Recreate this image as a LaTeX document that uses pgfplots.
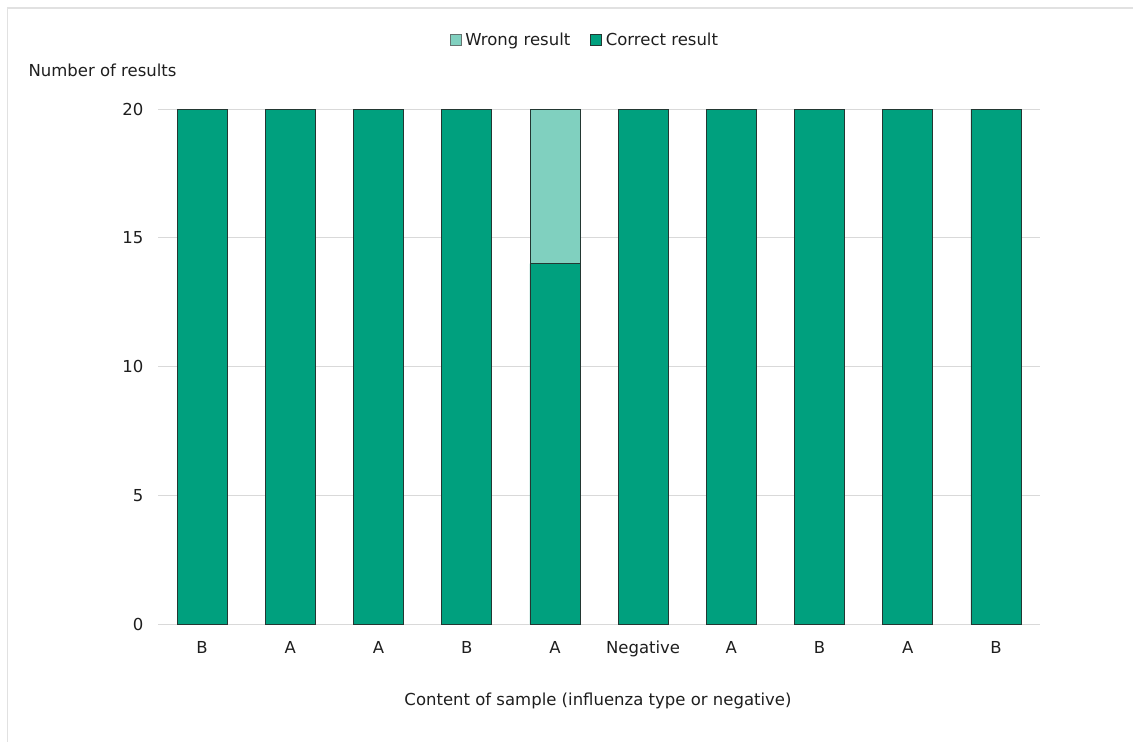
\documentclass[border=0pt]{standalone}
\usepackage{fontspec}
\setmainfont{DejaVu Sans}
\usepackage{pgfplots}
\pgfplotsset{compat=1.18}
\definecolor{correct}{RGB}{0,160,126}
\definecolor{wrong}{RGB}{128,208,191}
\definecolor{txt}{RGB}{30,30,30}
\definecolor{gridc}{RGB}{217,217,217}
\definecolor{edge}{RGB}{35,55,50}
\begin{document}
\begin{tikzpicture}[x=1bp,y=1bp,font=\fontsize{16.5bp}{19bp}\selectfont\color{txt}]
\useasboundingbox (0,0) rectangle (1133,-742);
\draw[gridc!80, line width=1.5bp] (7.5,-750) -- (7.5,-8) -- (1140,-8);
\begin{axis}[
  at={(158bp,-624bp)}, anchor=south west,
  scale only axis, width=882bp, height=515bp,
  xmin=-0.5, xmax=9.5, ymin=0, ymax=20,
  clip=false,
  ybar stacked, bar width=50bp,
  axis line style={draw=none},
  major tick length=0pt,
  ytick={0,5,10,15,20},
  ymajorgrids, grid style={gridc, line width=0.8bp},
  xtick={0,...,9},
  xticklabels={B,A,A,B,A,Negative,A,B,A,B},
  /pgf/number format/assume math mode=true,
  ticklabel style={font=\fontsize{16.5bp}{19bp}\selectfont, text=txt},
  yticklabel style={xshift=-11bp},
  xticklabel style={yshift=-14bp, text height=12bp, text depth=3.5bp},
  legend columns=2,
  legend image code/.code={\draw[#1] (0bp,-5.5bp) rectangle (11bp,5.5bp);},
  legend style={draw=none, fill=none, at={(0.484,1.134)}, anchor=center,
    font=\fontsize{16.5bp}{19bp}\selectfont, text=txt,
    /tikz/every even column/.append style={column sep=18bp},
    /tikz/every odd column/.append style={column sep=2bp}},
  legend cell align=left,
]
\addlegendimage{fill=wrong, draw=edge!70, line width=0.6bp}
\addlegendentry{Wrong result}
\addlegendimage{fill=correct, draw=edge, line width=0.6bp}
\addlegendentry{Correct result}
\addplot[fill=correct, draw=edge, line width=0.75bp, forget plot] coordinates {
(0,20) (1,20) (2,20) (3,20) (4,14) (5,20) (6,20) (7,20) (8,20) (9,20)};
\addplot[fill=wrong, draw=edge, line width=0.75bp, forget plot] coordinates {
(0,0) (1,0) (2,0) (3,0) (4,6) (5,0) (6,0) (7,0) (8,0) (9,0)};
\end{axis}
\node[anchor=west] at (25,-70) {Number of results};
\node at (598,-701) {Content of sample (influenza type or negative)};
\end{tikzpicture}
\end{document}
